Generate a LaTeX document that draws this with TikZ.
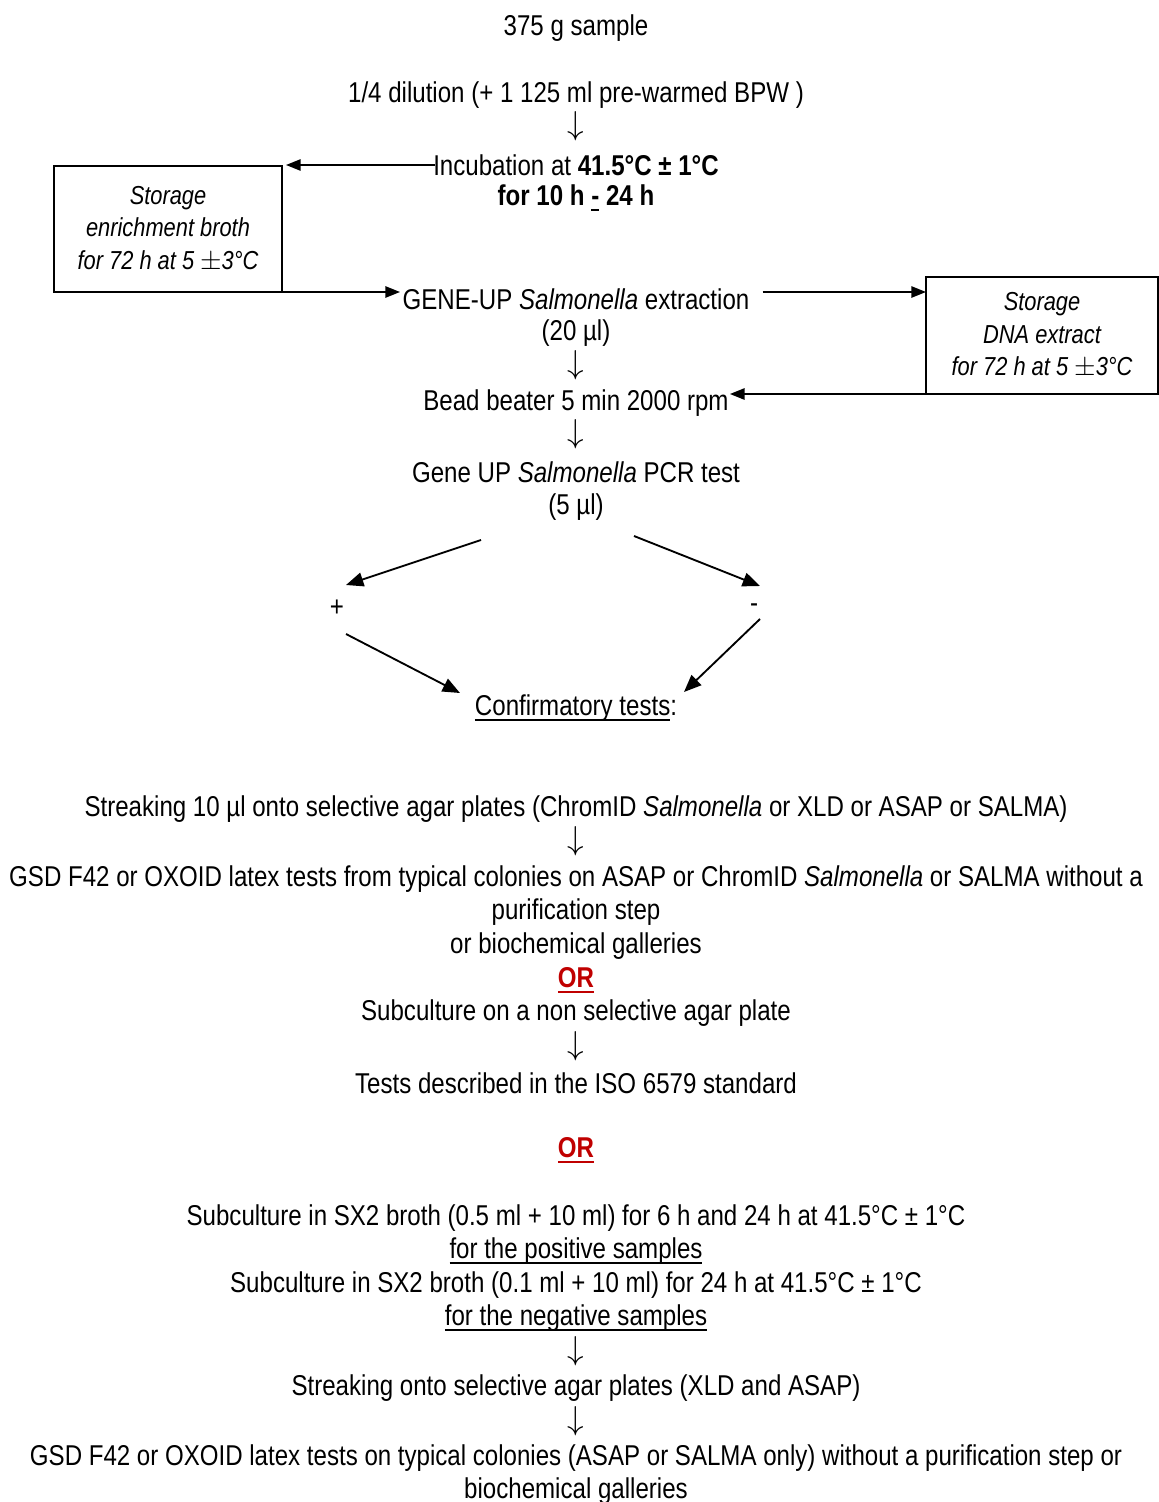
\documentclass[tikz,border=0pt]{standalone}
\usepackage{fontspec}
\setmainfont{Liberation Sans}[FakeStretch=0.84]
\newsavebox\myulbox
\newcommand{\myul}[1]{\sbox\myulbox{#1}\rlap{\rule[-4pt]{\wd\myulbox}{1.3pt}}\usebox\myulbox}
\newcommand{\dnarrow}{$\downarrow$}
\usetikzlibrary{arrows.meta}
\definecolor{orred}{RGB}{192,0,0}
\begin{document}
\begin{tikzpicture}[x=0.75pt,y=-0.75pt,
  every node/.style={inner sep=0pt,outer sep=0pt,font=\fontsize{21.5}{24}\selectfont},
  txt/.style={anchor=center,yshift=-1.5pt},
  darrow/.style={anchor=center,font=\fontsize{25}{28}\selectfont},
  sbox/.style={draw,line width=1.2pt,minimum width=228*0.75pt,minimum height=126*0.75pt,align=center,font=\fontsize{19.5}{24.4}\selectfont\itshape},
  arr/.style={line width=1.3pt,-{Triangle[length=11pt,width=8.5pt]}},
  darr/.style={line width=1.4pt,-{Triangle[length=13pt,width=10.5pt]}},
  ored/.style={text=orred,font=\fontsize{21.5}{24}\selectfont\bfseries}]
\useasboundingbox (0,0) rectangle (1159,1502);
\node[txt] (sample) at (576,26) {375 g sample};
\node[txt] (dil) at (576,93) {1/4 dilution (+ 1 125 ml pre-warmed BPW )};
\node[darrow] (d1) at (576,126) {\dnarrow};
\node[txt] (incub) at (576,163) {Incubation at \textbf{41.5°C ± 1°C}};
\node[txt] (incub2) at (576,196) {\textbf{for 10 h \myul{-} 24 h}};
\node[sbox] (box1) at (168,229) {Storage\\enrichment broth\\for 72 h at 5 $\pm$3°C};
\node[txt] (gene) at (576,297) {GENE-UP \textit{Salmonella} extraction};
\node[txt] (gene2) at (576,331) {(20 µl)};
\node[sbox,minimum width=232*0.75pt,minimum height=117*0.75pt] (box2) at (1042,335.5) {Storage\\DNA extract\\for 72 h at 5 $\pm$3°C};
\node[darrow] (d2) at (576,365) {\dnarrow};
\node[txt] (bead) at (576,401) {Bead beater 5 min 2000 rpm};
\node[darrow] (d3) at (576,434) {\dnarrow};
\node[txt] (pcr) at (576,470) {Gene UP \textit{Salmonella} PCR test};
\node[txt] (pcr2) at (576,505) {(5 µl)};
\node[txt] (plus) at (337,606) {+};
\node[txt] (minus) at (754,606) {-};
\node[txt] (conf) at (576,706) {\myul{Confirmatory tests}:};
\coordinate (c1) at (481,540);
\coordinate (c2) at (634,536);
\coordinate (t1) at (346,585);
\coordinate (t2) at (760,586);
\coordinate (c3) at (346,634);
\coordinate (c4) at (760,619);
\coordinate (t3) at (460,693);
\coordinate (t4) at (684,692);
\draw[darr] (c1) -- (t1);
\draw[darr] (c2) -- (t2);
\draw[darr] (c3) -- (t3);
\draw[darr] (c4) -- (t4);
\draw[arr] ([xshift=1pt]incub.west) -- ([xshift=3pt]incub.west -| box1.east);
\draw[arr] (box1.south east) -- ([xshift=-2pt]box1.south east -| gene.west);
\draw[arr] ([xshift=10pt]gene.east |- box1.south east) -- (box1.south east -| box2.west);
\draw[arr] (box2.south west) -- ([xshift=1pt]box2.south west -| bead.east);
\node[txt] (s1) at (576,807) {Streaking 10 µl onto selective agar plates (ChromID \textit{Salmonella} or XLD or ASAP or SALMA)};
\node[darrow] (d4) at (576,841) {\dnarrow};
\node[txt] (g1) at (576,877) {GSD F42 or OXOID latex tests from typical colonies on ASAP or ChromID \textit{Salmonella} or SALMA without a};
\node[txt] (g2) at (576,910) {purification step};
\node[txt] (g3) at (576,944) {or biochemical galleries};
\node[txt,ored] (or1) at (576,978) {\myul{OR}};
\node[txt] (n1) at (576,1011) {Subculture on a non selective agar plate};
\node[darrow] (d5) at (576,1046) {\dnarrow};
\node[txt] (n2) at (576,1081) {Tests described in the ISO 6579 standard};
\node[txt,ored] (or2) at (576,1148) {\myul{OR}};
\node[txt] (x1) at (576,1216) {Subculture in SX2 broth (0.5 ml + 10 ml) for 6 h and 24 h at 41.5°C ± 1°C};
\node[txt] (x2) at (576,1249) {\myul{for the positive samples}};
\node[txt] (x3) at (576,1283) {Subculture in SX2 broth (0.1 ml + 10 ml) for 24 h at 41.5°C ± 1°C};
\node[txt] (x4) at (576,1316) {\myul{for the negative samples}};
\node[darrow] (d6) at (576,1351) {\dnarrow};
\node[txt] (x5) at (576,1386) {Streaking onto selective agar plates (XLD and ASAP)};
\node[darrow] (d7) at (576,1421) {\dnarrow};
\node[txt] (x6) at (576,1456) {GSD F42 or OXOID latex tests on typical colonies (ASAP or SALMA only) without a purification step or};
\node[txt] (x7) at (576,1489) {biochemical galleries};
\end{tikzpicture}
\end{document}
